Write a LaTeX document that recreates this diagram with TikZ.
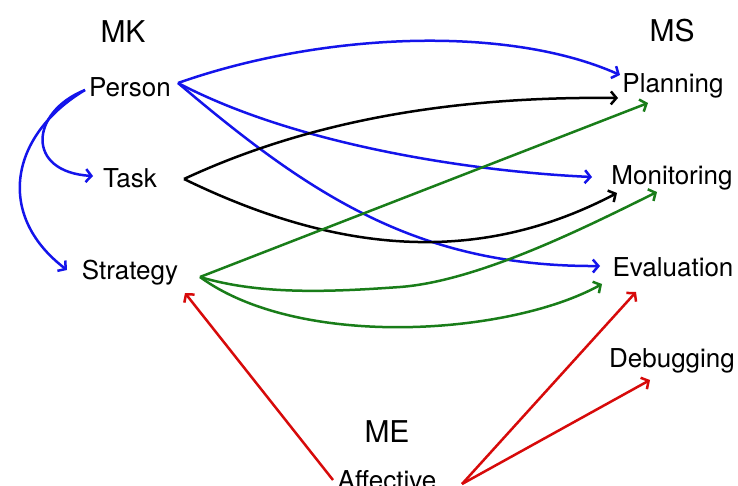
\documentclass[tikz,border=0pt]{standalone}
\usepackage{fontspec}
\setmainfont{TeX Gyre Heros}
\usetikzlibrary{arrows.meta}
\definecolor{cblue}{RGB}{20,20,235}
\definecolor{cgreen}{RGB}{25,125,25}
\definecolor{cred}{RGB}{215,10,10}
\begin{document}
\begin{tikzpicture}[x=1pt,y=-1pt,
  lbl/.style={inner sep=0pt, anchor=base, font=\fontsize{26}{30}\selectfont},
  hdr/.style={inner sep=0pt, anchor=base, font=\fontsize{30}{34}\selectfont},
  conn/.style={line width=2.5pt, -{Straight Barb[length=5.5pt,width=13pt]}},
  kb/.style={conn, draw=cblue},
  kk/.style={conn, draw=black},
  kg/.style={conn, draw=cgreen},
  kr/.style={conn, draw=cred}]
\clip (0,0) rectangle (738,486);
\fill[white] (0,0) rectangle (738,486);
% headings
\node[hdr] (mk) at (123,43) {MK};
\node[hdr] (ms) at (672,42) {MS};
\node[hdr] (me) at (387,442) {ME};
% labels
\node[lbl] (person) at (130,97) {Person};
\node[lbl] (task) at (130,188) {Task};
\node[lbl] (strategy) at (130,279) {Strategy};
\node[lbl] (planning) at (673,93) {Planning};
\node[lbl] (monitoring) at (672,185) {Monitoring};
\node[lbl] (evaluation) at (673,276) {Evaluation};
\node[lbl] (debugging) at (672,367) {Debugging};
\node[lbl] (affective) at (387,489) {Affective};
% blue (Person)
\draw[kb] ([shift={(48,-14)}]person.base) .. controls (323,32) and (508,25) .. ([shift={(-53,-18)}]planning.base);
\draw[kb] ([shift={(48,-14)}]person.base) .. controls (300,147) and (480,172) .. ([shift={(-80,-8)}]monitoring.base);
\draw[kb] ([shift={(48,-14)}]person.base) .. controls (310,195) and (418,267) .. ([shift={(-73,-10)}]evaluation.base);
\draw[kb] ([shift={(-45,-7)}]person.base) .. controls (30,112) and (25,172) .. ([shift={(-37,-12)}]task.base);
\draw[kb] ([shift={(-45,-7)}]person.base) .. controls (10,135) and (-5,215) .. ([shift={(-63,-9)}]strategy.base);
% black (Task)
\draw[kk] ([shift={(54,-9)}]task.base) .. controls (300,125) and (440,96) .. ([shift={(-55,5)}]planning.base);
\draw[kk] ([shift={(54,-9)}]task.base) .. controls (340,255) and (480,265) .. ([shift={(-55,8)}]monitoring.base);
% green (Strategy)
\draw[kg] ([shift={(70,-2)}]strategy.base) -- ([shift={(-25,10)}]planning.base);
\draw[kg] ([shift={(70,-2)}]strategy.base) .. controls (260,295) and (330,292) .. (400,287) .. controls (480,281) and (590,225) .. ([shift={(-15,7)}]monitoring.base);
\draw[kg] ([shift={(70,-2)}]strategy.base) .. controls (300,350) and (510,335) .. ([shift={(-71,8)}]evaluation.base);
% red (Affective)
\draw[kr] ([shift={(-54,-9)}]affective.base) -- ([shift={(55,14)}]strategy.base);
\draw[kr] ([shift={(75,-5)}]affective.base) -- ([shift={(-37,16)}]evaluation.base);
\draw[kr] ([shift={(75,-5)}]affective.base) -- ([shift={(-22,13)}]debugging.base);
\end{tikzpicture}
\end{document}
